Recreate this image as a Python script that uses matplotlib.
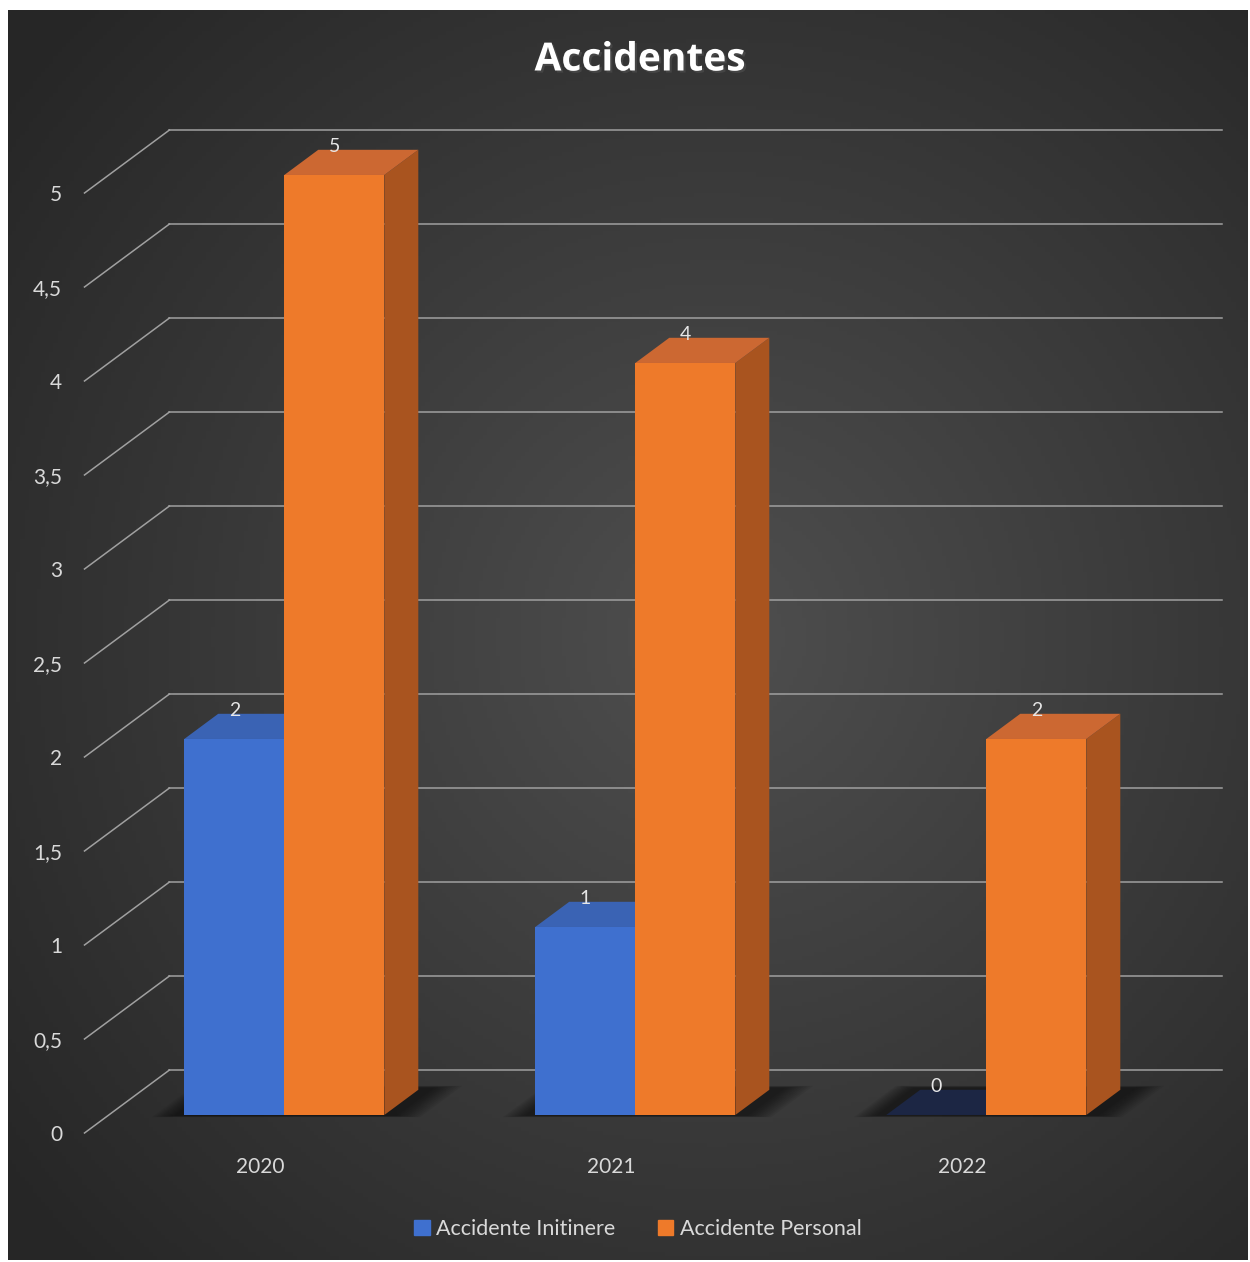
import numpy as np
import matplotlib.pyplot as plt
from matplotlib.patches import Polygon, Patch
import matplotlib.patheffects as pe

plt.rcParams['font.family'] = ['Lato', 'DejaVu Sans']

years = ['2020', '2021', '2022']
itinere = [2, 1, 0]
personal = [5, 4, 2]
series_names = ['Accidente Initinere', 'Accidente Personal']
yticks = [0, 0.5, 1, 1.5, 2, 2.5, 3, 3.5, 4, 4.5, 5]
ytick_labels = ['0', '0,5', '1', '1,5', '2', '2,5', '3', '3,5', '4', '4,5', '5']

# colours: front, top, side
blue = ('#3f70cf', '#3a63b4', '#2c4f94')
orange = ('#ee7a2a', '#cc6832', '#a9541f')

W, H = 1250, 1262
fig = plt.figure(figsize=(W / 100, H / 100), dpi=100, facecolor='white')

# dark panel with radial gradient
bg = fig.add_axes([8 / W, 2 / H, 1240 / W, 1250 / H])
ny, nx = 300, 300
yy, xx = np.mgrid[0:ny, 0:nx]
r = np.hypot((xx - 0.57 * nx) / nx, (yy - 0.5 * ny) / ny)
r = np.clip(r / 0.72, 0, 1)
light = np.array([0.31, 0.31, 0.31])
dark = np.array([0.15, 0.15, 0.15])
img = light + (dark - light) * r[..., None]
bg.imshow(img, extent=[0, 1, 0, 1], aspect='auto', origin='upper')
bg.axis('off')

# main axes = front plane of the 3d box
ax = fig.add_axes([84.5 / W, 129 / H, 1053 / W, 940 / H])
ax.set_xlim(-0.5, 2.5)
ax.set_ylim(0, 5)
ax.patch.set_alpha(0)
for s in ax.spines.values():
    s.set_visible(False)

DX, DY = 0.242, 0.335   # shift from front to back wall
D1, D2 = 0.286, 0.686   # depth of bar front / back faces
BW = 0.285

# gridlines on back wall and side wall
for v in yticks:
    ax.plot([-0.5 + DX, 2.5 + DX], [v + DY, v + DY], color='#a0a0a0', lw=1.1,
            clip_on=False, zorder=1)
    ax.plot([-0.5, -0.5 + DX], [v, v + DY], color='#a0a0a0', lw=1.1,
            clip_on=False, zorder=1)

x = np.arange(len(years))

# soft shadows on the floor
for c in x:
    for i in range(10):
        m = 0.008 * (10 - i)
        xl = c - BW - 0.02 - m * 0.8
        xr = c + BW + 0.03 + m
        d1, d2 = D1 - 0.01 - m * 0.3, D2 + 0.03 + m * 0.4
        pts = [(xl + d1 * DX, d1 * DY), (xr + d1 * DX, d1 * DY),
               (xr + d2 * DX, d2 * DY), (xl + d2 * DX, d2 * DY)]
        ax.add_patch(Polygon(pts, closed=True, color='black', alpha=0.06, lw=0,
                             clip_on=False, zorder=2))

for k, (vals, cols) in enumerate([(itinere, blue), (personal, orange)]):
    xs = x + (k - 0.5) * BW
    z = 3 + k * 0.2
    for xc, v in zip(xs, vals):
        xl, xr = xc - BW / 2, xc + BW / 2
        top = [(xl + D1 * DX, v + D1 * DY), (xr + D1 * DX, v + D1 * DY),
               (xr + D2 * DX, v + D2 * DY), (xl + D2 * DX, v + D2 * DY)]
        side = [(xr + D1 * DX, D1 * DY), (xr + D2 * DX, D2 * DY),
                (xr + D2 * DX, v + D2 * DY), (xr + D1 * DX, v + D1 * DY)]
        tc = cols[1] if v > 0 else '#1c2644'
        ax.add_patch(Polygon(side, closed=True, color=cols[2], lw=0,
                             clip_on=False, zorder=z))
        ax.add_patch(Polygon(top, closed=True, color=tc, lw=0,
                             clip_on=False, zorder=z))
        ax.text(xc + D1 * DX, v + D2 * DY + 0.015, str(v), ha='center',
                va='center', color='#e6e6e6', fontsize=14, zorder=6)
    ax.bar(xs + D1 * DX, vals, width=BW, bottom=D1 * DY, color=cols[0],
           lw=0, clip_on=False, zorder=z + 0.1)

ax.set_yticks(yticks, ytick_labels)
ax.set_xticks(x, years)
ax.tick_params(axis='both', length=0, colors='#d9d9d9', labelsize=15)
ax.tick_params(axis='y', pad=16)
ax.tick_params(axis='x', pad=17)

fig.text(0.512, 1 - 60 / H, 'Accidentes', ha='center', va='center',
         fontsize=28, fontweight='bold', color='white', family='Open Sans',
         path_effects=[pe.withSimplePatchShadow(offset=(1.5, -1.5), alpha=0.7)])

handles = [Patch(color=blue[0]), Patch(color=orange[0])]
fig.legend(handles, series_names, loc='center',
           bbox_to_anchor=(638 / W, 1 - 1229 / H), ncol=2, frameon=False,
           labelcolor='#d9d9d9', fontsize=15.5, handlelength=0.7,
           handleheight=0.7, handletextpad=0.3, columnspacing=2.0)

fig.savefig('out.png', dpi=100, facecolor='white')
